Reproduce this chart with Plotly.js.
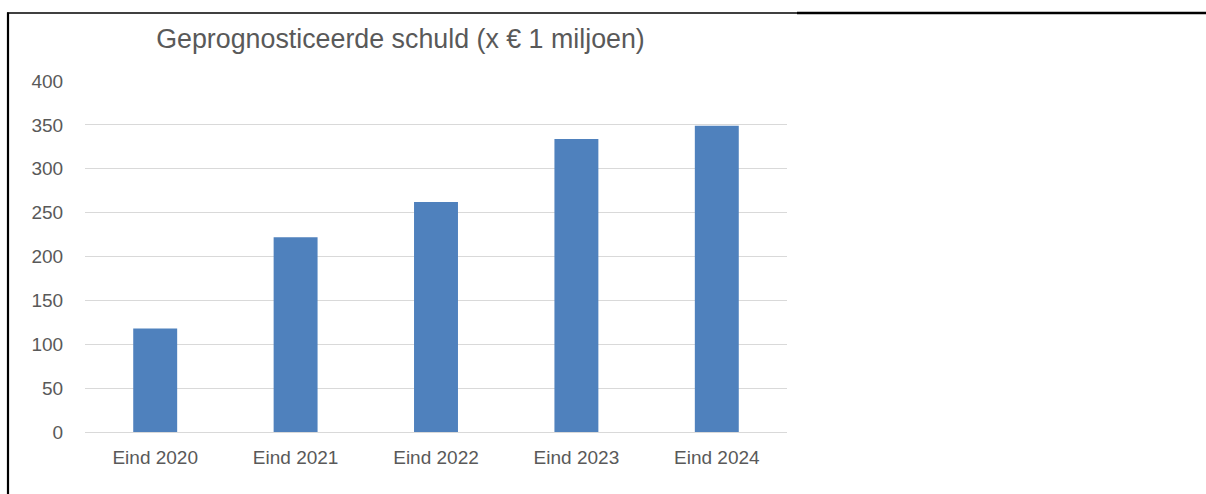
<!DOCTYPE html>
<html>
<head>
<meta charset="utf-8">
<script src="https://cdn.plot.ly/plotly-3.0.1.min.js"></script>
<style>
  html, body { margin: 0; padding: 0; background: #ffffff; }
  #chart { width: 1206px; height: 494px; }
</style>
</head>
<body>
<div id="chart"></div>
<script>
const categories = ["Eind 2020", "Eind 2021", "Eind 2022", "Eind 2023", "Eind 2024"];
const schuld = [118, 222, 262, 334, 349];
const yTicks = [0, 50, 100, 150, 200, 250, 300, 350, 400];
const chartTitle = "Geprognosticeerde schuld (x € 1 miljoen)";

const W = 1206, H = 494;
const M = { l: 85, r: 419, t: 81, b: 62 };
const PW = W - M.l - M.r, PH = H - M.t - M.b;
const px = x => (x - M.l) / PW;
const py = y => (H - M.b - y) / PH;

const trace = {
  type: "bar",
  x: categories,
  y: schuld,
  marker: { color: "#4f81bd", line: { width: 0 } },
  width: 0.313,
  hoverinfo: "x+y"
};

const layout = {
  width: W, height: H,
  margin: M,
  paper_bgcolor: "#ffffff",
  plot_bgcolor: "#ffffff",
  showlegend: false,
  font: { family: "Liberation Sans, Arial, sans-serif", color: "#595959", size: 19 },
  title: {
    text: chartTitle,
    font: { family: "Liberation Sans, Arial, sans-serif", size: 26.8, color: "#595959" },
    x: px(400.5), xref: "paper", xanchor: "center",
    y: 1 - 39 / H, yref: "container", yanchor: "middle"
  },
  xaxis: {
    type: "category",
    showgrid: false,
    zeroline: false,
    showline: false,
    ticks: "outside", ticklen: 8, tickcolor: "rgba(0,0,0,0)",
    tickfont: { size: 19, color: "#595959" },
    fixedrange: true
  },
  yaxis: {
    range: [0, 400],
    tickvals: yTicks,
    ticktext: yTicks.map(String),
    showgrid: true, gridcolor: "#d9d9d9", gridwidth: 1,
    zeroline: true, zerolinecolor: "#d9d9d9", zerolinewidth: 1,
    showline: false,
    ticks: "outside", ticklen: 17, tickcolor: "rgba(0,0,0,0)",
    tickfont: { size: 19, color: "#595959" },
    fixedrange: true
  },
  shapes: [
    { type: "line", xref: "paper", yref: "paper", x0: px(7), x1: px(797), y0: py(13), y1: py(13),
      line: { color: "#000000", width: 1.3 } },
    { type: "line", xref: "paper", yref: "paper", x0: px(797), x1: px(1206), y0: py(13), y1: py(13),
      line: { color: "#000000", width: 2.3 } },
    { type: "line", xref: "paper", yref: "paper", x0: px(8), x1: px(8), y0: py(12.5), y1: py(494),
      line: { color: "#000000", width: 2.2 } }
  ]
};

Plotly.newPlot("chart", [trace], layout, { displayModeBar: false, staticPlot: true });
</script>
</body>
</html>
